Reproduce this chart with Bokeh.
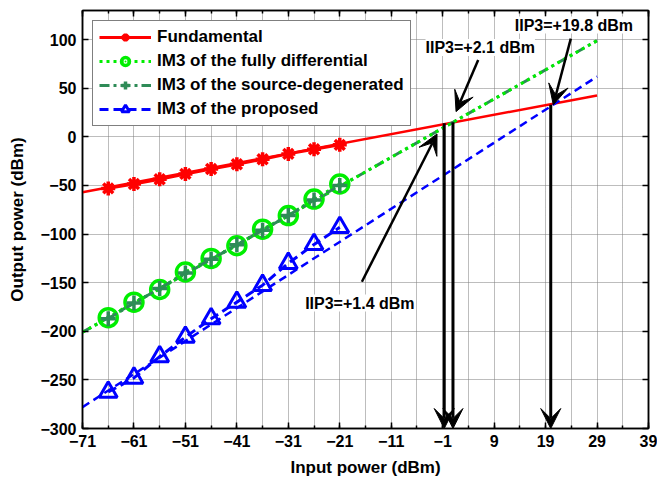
from bokeh.plotting import figure
from bokeh.models import (Range1d, FixedTicker, LinearAxis, Legend, LegendItem,
                          Label, Arrow, VeeHead)
from bokeh.embed import file_html
from bokeh.resources import INLINE

# ---------------- data ----------------
x_pts = [-66, -61, -56, -51, -46, -41, -36, -31, -26, -21]
fundamental = [-53, -48.5, -43.6, -38.1, -33, -28.2, -23, -17.5, -12.7, -8.2]
im3_fully_diff = [-186, -170, -157, -139, -125, -112, -95, -81, -64, -48.5]
im3_source_deg = [-187, -171, -156, -140, -126, -111, -96, -81, -65, -50]
im3_proposed = [-262.5, -248, -226, -206, -187, -170, -152.6, -130, -110.6, -93]

x_ext = [-71, 29]
fundamental_ext = [-57, 42.6]
im3_ext = [-201, 99]
proposed_ext = [-278, 62]

iip3_x = [-0.7, 1.0, 20.0]
iip3_top = [14, 15, 33]

x_ticks = list(range(-71, 40, 10))
x_minor = list(range(-71, 40, 5))
y_ticks = list(range(-300, 101, 50))

FONT = "Liberation Sans"

p = figure(width=657, height=481, output_backend="svg", toolbar_location=None,
           x_range=Range1d(-71, 39), y_range=Range1d(-300, 130),
           min_border_left=82, min_border_right=9, min_border_top=10,
           min_border_bottom=53)
p.background_fill_color = "white"
p.outline_line_color = "black"
p.outline_line_width = 1.5

xt = FixedTicker(ticks=x_ticks, minor_ticks=x_minor)
yt = FixedTicker(ticks=y_ticks)
p.xaxis.ticker = xt
p.yaxis.ticker = yt
p.xgrid.ticker = FixedTicker(ticks=x_minor)
p.ygrid.ticker = yt
for g in (p.xgrid, p.ygrid):
    g.grid_line_color = "#7a7a7a"
    g.grid_line_dash = "1 1"
    g.grid_line_width = 1

for ax in (p.xaxis[0], p.yaxis[0]):
    ax.axis_line_width = 1.5
    ax.major_tick_in = 6
    ax.major_tick_out = 0
    ax.minor_tick_in = 3
    ax.minor_tick_out = 0
    ax.major_tick_line_width = 1.5
    ax.minor_tick_line_width = 1.5
    ax.major_label_text_font = FONT
    ax.major_label_text_font_style = "bold"
    ax.major_label_text_font_size = "16px"
    ax.major_label_text_color = "black"
    ax.axis_label_text_font = FONT
    ax.axis_label_text_font_style = "bold"
    ax.axis_label_text_font_size = "17px"
    ax.axis_label_text_color = "black"
    ax.major_label_standoff = 6
p.yaxis[0].minor_tick_in = 0
p.xaxis.axis_label = "Input power (dBm)"
p.yaxis.axis_label = "Output power (dBm)"
p.xaxis.axis_label_standoff = 8
p.yaxis.axis_label_standoff = 10

top_ax = LinearAxis(ticker=xt, major_tick_in=6, major_tick_out=0, minor_tick_in=3,
                    minor_tick_out=0, major_label_text_font_size="0px",
                    axis_line_width=1.5, major_tick_line_width=1.5,
                    minor_tick_line_width=1.5, major_label_standoff=0)
right_ax = LinearAxis(ticker=yt, major_tick_in=6, major_tick_out=0, minor_tick_in=0,
                      minor_tick_out=0, major_label_text_font_size="0px",
                      axis_line_width=1.5, major_tick_line_width=1.5,
                      major_label_standoff=0)
p.add_layout(top_ax, "above")
p.add_layout(right_ax, "right")

RED = "#ff0000"
GREEN = "#00ee00"
DKGREEN = "#2e8b57"
BLUE = "#0000ff"

# extrapolated lines
p.line(x_ext, fundamental_ext, line_color=RED, line_width=2.5)
p.line(x_ext, im3_ext, line_color=DKGREEN, line_width=3, line_dash="10 4 3 4")
p.line(x_ext, im3_ext, line_color=GREEN, line_width=3, line_dash="3 4")
p.line(x_ext, proposed_ext, line_color=BLUE, line_width=2.5, line_dash="8 5")

# measured series
l1 = p.line(x_pts, fundamental, line_color=RED, line_width=3)
s1 = p.scatter(x_pts, fundamental, marker="asterisk", size=14, line_color=RED,
               line_width=3.5)
l2 = p.line(x_pts, im3_fully_diff, line_color=GREEN, line_width=3, line_dash="3 4")
s2 = p.scatter(x_pts, im3_fully_diff, marker="circle_dot", size=18, line_color=GREEN,
               fill_color=None, line_width=3.5)
l3 = p.line(x_pts, im3_source_deg, line_color=DKGREEN, line_width=3,
            line_dash="10 4 3 4")
s3 = p.scatter(x_pts, im3_source_deg, marker="cross", size=15, line_color=DKGREEN,
               line_width=3.5)
l4 = p.line(x_pts, im3_proposed, line_color=BLUE, line_width=3, line_dash="9 5")
s4 = p.scatter(x_pts, im3_proposed, marker="triangle", size=18, line_color=BLUE,
               fill_color=None, line_width=3)

legend = Legend(items=[
    LegendItem(label="Fundamental", renderers=[l1, s1]),
    LegendItem(label="IM3 of the fully differential", renderers=[l2, s2]),
    LegendItem(label="IM3 of the source-degenerated", renderers=[l3, s3]),
    LegendItem(label="IM3 of the proposed", renderers=[l4, s4]),
], location="top_left")
legend.margin = 10
legend.padding = 6
legend.spacing = 4
legend.glyph_width = 52
legend.glyph_height = 20
legend.label_height = 20
legend.label_standoff = 6
legend.label_text_font = FONT
legend.label_text_font_style = "bold"
legend.label_text_font_size = "17px"
legend.label_text_color = "black"
legend.border_line_color = "black"
legend.border_line_width = 1.5
legend.background_fill_alpha = 1
p.add_layout(legend, "center")

# vertical IIP3 arrows
for xv, yv in zip(iip3_x, iip3_top):
    p.add_layout(Arrow(end=VeeHead(size=20, fill_color="black", line_color="black",
                                   line_width=1),
                       x_start=xv, y_start=yv, x_end=xv, y_end=-300,
                       line_color="black", line_width=3))

# labelled arrows
annots = [
    ("IIP3=+2.1 dBm", 6.3, 92, 5.9, 79, 1.6, 26),
    ("IIP3=+19.8 dBm", 24.5, 115, 23.9, 101, 20.5, 33),
    ("IIP3=+1.4 dBm", -17.1, -171, -16.7, -149, -2.1, 3),
]
for txt, tx, ty, xs, ys, xe, ye in annots:
    p.add_layout(Arrow(end=VeeHead(size=20, fill_color="black", line_color="black",
                                   line_width=1),
                       x_start=xs, y_start=ys, x_end=xe, y_end=ye,
                       line_color="black", line_width=2.5))
    p.add_layout(Label(x=tx, y=ty, text=txt, text_align="center",
                       text_baseline="middle", text_font=FONT,
                       text_font_style="bold", text_font_size="16px",
                       text_color="black", background_fill_color="white"))

open("out.html", "w").write(file_html(p, INLINE))
